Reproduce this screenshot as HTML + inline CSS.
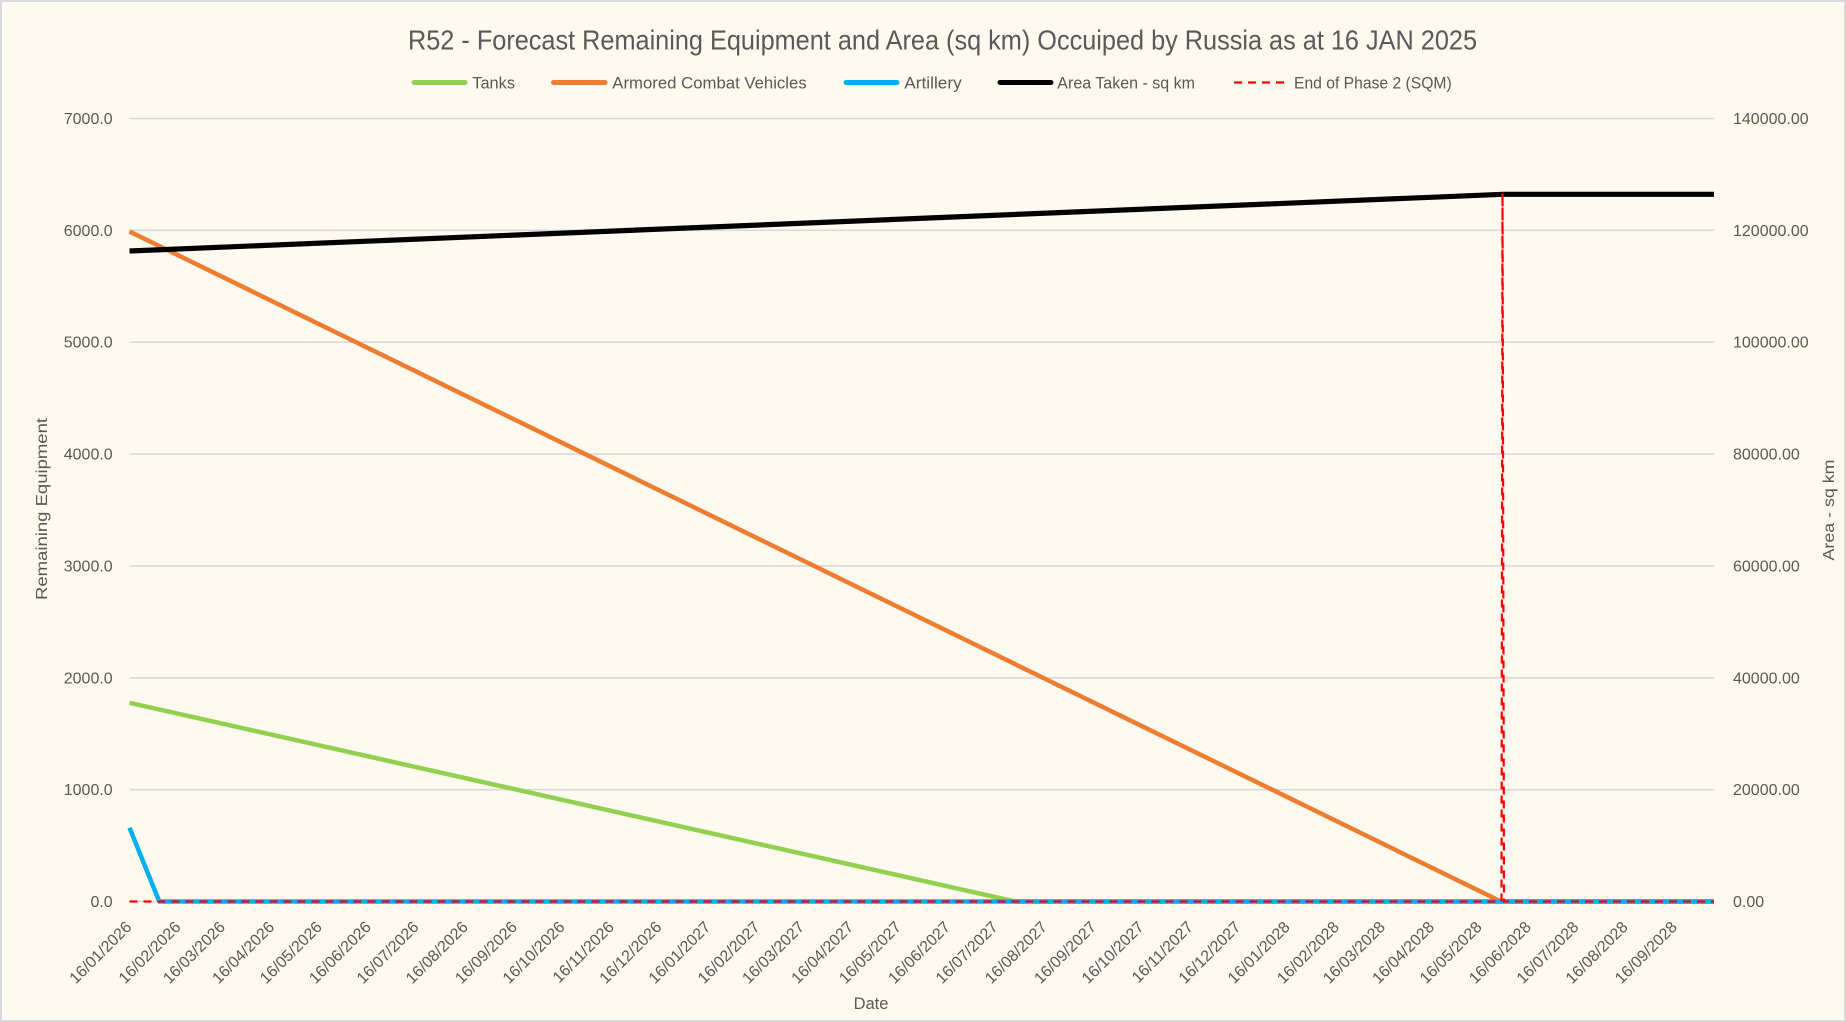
<!DOCTYPE html>
<html>
<head>
<meta charset="utf-8">
<style>
html,body{margin:0;padding:0;background:#fffaf0;}
svg{display:block;}
text{font-family:"Liberation Sans",Arial,sans-serif;fill:#595959;}
</style>
</head>
<body>
<svg width="1846" height="1022" viewBox="0 0 1846 1022" xmlns="http://www.w3.org/2000/svg">
<rect x="0" y="0" width="1846" height="1022" fill="#fffaf0"/>
<rect x="1" y="1" width="1844" height="1020" fill="none" stroke="#d9d9d9" stroke-width="2"/>

<!-- Title -->
<text x="408" y="49.5" font-size="28" textLength="1069" lengthAdjust="spacingAndGlyphs">R52 - Forecast Remaining Equipment and Area (sq km) Occuiped by Russia as at 16 JAN 2025</text>

<!-- Legend -->
<g stroke-linecap="round" stroke-width="5" fill="none">
<line x1="414" y1="82.5" x2="465" y2="82.5" stroke="#92d050"/>
<line x1="553.5" y1="82.5" x2="605" y2="82.5" stroke="#ed7d31"/>
<line x1="846" y1="82.5" x2="897" y2="82.5" stroke="#00b0f0"/>
<line x1="1000" y1="82.5" x2="1051" y2="82.5" stroke="#000000"/>
</g>
<line x1="1234" y1="82.5" x2="1285" y2="82.5" stroke="#ff0000" stroke-width="2.2" stroke-dasharray="8 6"/>
<g font-size="16.5">
<text x="472.3" y="88.3" textLength="42.7" lengthAdjust="spacingAndGlyphs">Tanks</text>
<text x="612.3" y="88.3" textLength="194.4" lengthAdjust="spacingAndGlyphs">Armored Combat Vehicles</text>
<text x="904.3" y="88.3" textLength="57.4" lengthAdjust="spacingAndGlyphs">Artillery</text>
<text x="1057.3" y="88.3" textLength="137.7" lengthAdjust="spacingAndGlyphs">Area Taken - sq km</text>
<text x="1294" y="88.3" textLength="157.7" lengthAdjust="spacingAndGlyphs">End of Phase 2 (SQM)</text>
</g>

<!-- Gridlines -->
<g stroke="#d9d9d9" stroke-width="1.6">
<line x1="129.5" y1="118.5" x2="1714" y2="118.5"/>
<line x1="129.5" y1="230.36" x2="1714" y2="230.36"/>
<line x1="129.5" y1="342.21" x2="1714" y2="342.21"/>
<line x1="129.5" y1="454.07" x2="1714" y2="454.07"/>
<line x1="129.5" y1="565.93" x2="1714" y2="565.93"/>
<line x1="129.5" y1="677.79" x2="1714" y2="677.79"/>
<line x1="129.5" y1="789.64" x2="1714" y2="789.64"/>
<line x1="129.5" y1="901.5" x2="1714" y2="901.5"/>
</g>

<!-- Left axis labels -->
<g font-size="16" text-anchor="end">
<text x="112.7" y="124">7000.0</text>
<text x="112.7" y="235.86">6000.0</text>
<text x="112.7" y="347.71">5000.0</text>
<text x="112.7" y="459.57">4000.0</text>
<text x="112.7" y="571.43">3000.0</text>
<text x="112.7" y="683.29">2000.0</text>
<text x="112.7" y="795.14">1000.0</text>
<text x="112.7" y="907">0.0</text>
</g>

<!-- Right axis labels -->
<g font-size="16">
<text x="1733" y="124">140000.00</text>
<text x="1733" y="235.86">120000.00</text>
<text x="1733" y="347.71">100000.00</text>
<text x="1733" y="459.57">80000.00</text>
<text x="1733" y="571.43">60000.00</text>
<text x="1733" y="683.29">40000.00</text>
<text x="1733" y="795.14">20000.00</text>
<text x="1733" y="907">0.00</text>
</g>

<!-- Axis titles -->
<text transform="translate(47,509) rotate(-90)" font-size="16" text-anchor="middle" textLength="182" lengthAdjust="spacingAndGlyphs">Remaining Equipment</text>
<text transform="translate(1834,510) rotate(-90)" font-size="16" text-anchor="middle" textLength="101" lengthAdjust="spacingAndGlyphs">Area - sq km</text>
<text x="871" y="1009" font-size="16.5" text-anchor="middle">Date</text>

<!-- X labels -->
<g font-size="16" text-anchor="end">
<text transform="translate(132.5,928) rotate(-45)">16/01/2026</text>
<text transform="translate(181.7,928) rotate(-45)">16/02/2026</text>
<text transform="translate(226.1,928) rotate(-45)">16/03/2026</text>
<text transform="translate(275.3,928) rotate(-45)">16/04/2026</text>
<text transform="translate(322.9,928) rotate(-45)">16/05/2026</text>
<text transform="translate(372.1,928) rotate(-45)">16/06/2026</text>
<text transform="translate(419.7,928) rotate(-45)">16/07/2026</text>
<text transform="translate(468.9,928) rotate(-45)">16/08/2026</text>
<text transform="translate(518.1,928) rotate(-45)">16/09/2026</text>
<text transform="translate(565.7,928) rotate(-45)">16/10/2026</text>
<text transform="translate(614.9,928) rotate(-45)">16/11/2026</text>
<text transform="translate(662.5,928) rotate(-45)">16/12/2026</text>
<text transform="translate(711.6,928) rotate(-45)">16/01/2027</text>
<text transform="translate(760.8,928) rotate(-45)">16/02/2027</text>
<text transform="translate(805.3,928) rotate(-45)">16/03/2027</text>
<text transform="translate(854.4,928) rotate(-45)">16/04/2027</text>
<text transform="translate(902.1,928) rotate(-45)">16/05/2027</text>
<text transform="translate(951.2,928) rotate(-45)">16/06/2027</text>
<text transform="translate(998.8,928) rotate(-45)">16/07/2027</text>
<text transform="translate(1048.0,928) rotate(-45)">16/08/2027</text>
<text transform="translate(1097.2,928) rotate(-45)">16/09/2027</text>
<text transform="translate(1144.8,928) rotate(-45)">16/10/2027</text>
<text transform="translate(1194.0,928) rotate(-45)">16/11/2027</text>
<text transform="translate(1241.6,928) rotate(-45)">16/12/2027</text>
<text transform="translate(1290.8,928) rotate(-45)">16/01/2028</text>
<text transform="translate(1340.0,928) rotate(-45)">16/02/2028</text>
<text transform="translate(1386.0,928) rotate(-45)">16/03/2028</text>
<text transform="translate(1435.2,928) rotate(-45)">16/04/2028</text>
<text transform="translate(1482.8,928) rotate(-45)">16/05/2028</text>
<text transform="translate(1532.0,928) rotate(-45)">16/06/2028</text>
<text transform="translate(1579.6,928) rotate(-45)">16/07/2028</text>
<text transform="translate(1628.8,928) rotate(-45)">16/08/2028</text>
<text transform="translate(1678.0,928) rotate(-45)">16/09/2028</text>
</g>

<!-- Series -->
<g fill="none" stroke-linejoin="round">
<polyline points="129.5,702.8 1015,901.5 1714,901.5" stroke="#92d050" stroke-width="4.5"/>
<polyline points="129.5,231.5 1501,901.5 1714,901.5" stroke="#ed7d31" stroke-width="4.5"/>
<polyline points="129.5,827.7 159.3,901.5 1714,901.5" stroke="#00b0f0" stroke-width="4.5"/>
<polyline points="129.5,251 1503,194.3 1714,194.3" stroke="#000000" stroke-width="5.2"/>
<polyline points="129.5,901.5 1501.5,901.5 1502.5,193 1504,901.5 1714,901.5" stroke="#ff0000" stroke-width="2.2" stroke-dasharray="8 6" stroke-linejoin="miter"/>
</g>
</svg>
</body>
</html>
